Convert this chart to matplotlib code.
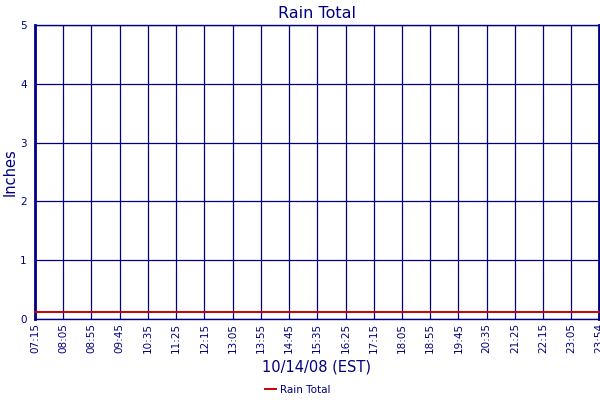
import matplotlib.pyplot as plt

# data : ------------------------------------------
tick_labels = ['07:15', '08:05', '08:55', '09:45', '10:35', '11:25', '12:15',
               '13:05', '13:55', '14:45', '15:35', '16:25', '17:15', '18:05',
               '18:55', '19:45', '20:35', '21:25', '22:15', '23:05', '23:54']
rain_total = [0.12] * len(tick_labels)   # inches, flat all day
y_ticks = [0, 1, 2, 3, 4, 5]
# -------------------------------------------------

navy = '#000080'
red = '#cc0000'
plt.rcParams["font.family"] = "DejaVu Sans"


def to_minutes(hhmm):
    h, m = hhmm.split(':')
    return int(h) * 60 + int(m)


x = [to_minutes(t) for t in tick_labels]

fig = plt.figure(figsize=(6, 4), dpi=100)
ax = fig.add_axes([35/600, 1 - 319/400, 564/600, 294/400])

ax.plot(x, rain_total, c=red, lw=1.4, label='Rain Total', clip_on=False, zorder=3)

ax.set_xlim(x[0], x[-1])
ax.set_ylim(0, 5)
ax.set_xticks(x)
ax.set_xticklabels(tick_labels, rotation=90, fontsize=7.5, color=navy)
ax.set_yticks(y_ticks)
ax.set_yticklabels([str(v) for v in y_ticks], fontsize=7.5, color=navy)
ax.tick_params(axis='both', length=0, pad=3)
ax.tick_params(axis='y', pad=6)

ax.grid(True, color=navy, lw=0.9)
for side in ['top', 'bottom']:
    ax.spines[side].set_color(navy)
    ax.spines[side].set_linewidth(1.0)
for side in ['left', 'right']:
    ax.spines[side].set_color(navy)
    ax.spines[side].set_linewidth(2.0)

ax.set_title('Rain Total', fontsize=11.5, color=navy, pad=5)
fig.text(10/600, 1 - 172/400, 'Inches', fontsize=10.5, color=navy,
         rotation=90, ha='center', va='center')
fig.text(0.5 * (35 + 599) / 600, 1 - 367/400, '10/14/08 (EST)', fontsize=10.5,
         color=navy, ha='center', va='center')

fig.legend(loc='center', bbox_to_anchor=(298/600, 1 - 390/400), frameon=False,
           fontsize=7.5, labelcolor=navy, handlelength=1.0, handletextpad=0.4)

fig.savefig('out.png', dpi=100)
